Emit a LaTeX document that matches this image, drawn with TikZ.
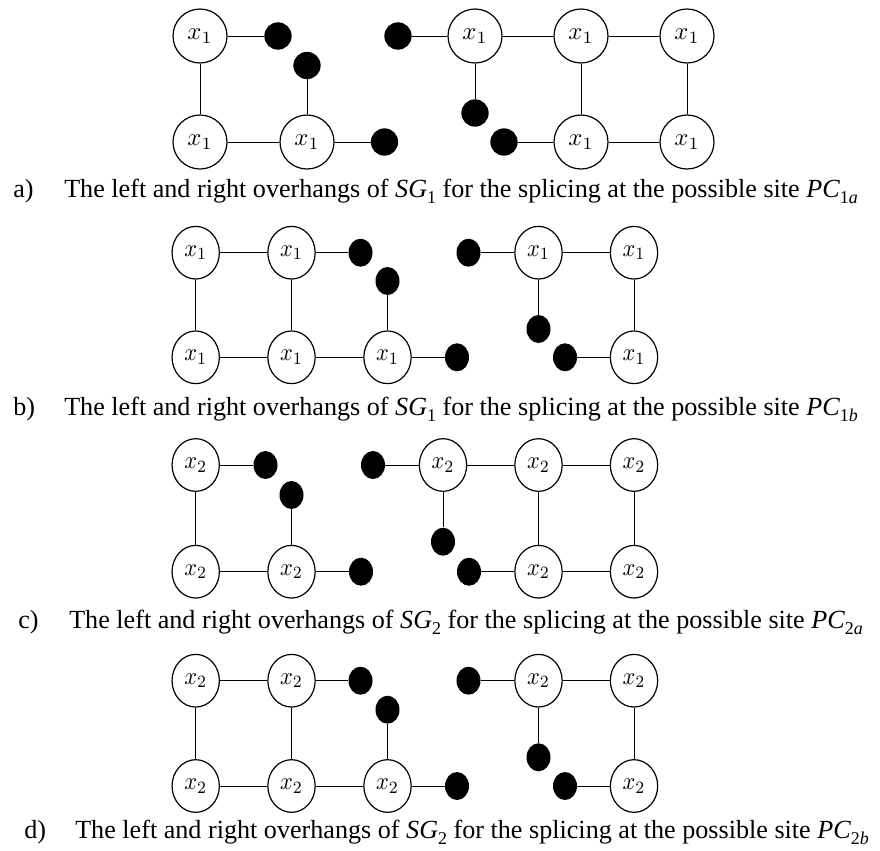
\documentclass[tikz,border=0pt]{standalone}
\usepackage{fontspec}
\setmainfont{Liberation Serif}
\usetikzlibrary{shapes.geometric}
\newcommand{\capsub}[1]{\raisebox{-0.25em}{\fontsize{13.5}{14}\selectfont #1}}
\newcommand{\lbla}[1]{\scalebox{1.85}{$x_{#1}$}}
\newcommand{\lblb}[1]{\scalebox{1.68}[1.85]{$x_{#1}$}}
\tikzset{
  vtxa/.style={circle, draw, line width=0.9pt, minimum size=40.5pt, inner sep=0pt},
  vtxb/.style={ellipse, draw, line width=0.9pt, minimum width=35.5pt, minimum height=39.5pt, inner sep=0pt},
  dota/.style={circle, fill, minimum size=20.5pt, inner sep=0pt},
  dotb/.style={ellipse, fill, minimum width=18pt, minimum height=21pt, inner sep=0pt},
  conn/.style={line width=0.6pt},
  captext/.style={font=\fontsize{19.6}{22}\selectfont, inner sep=0pt, anchor=base west}
}
\begin{document}
\begin{tikzpicture}[x=0.75pt, y=-0.75pt]
\useasboundingbox (0,0) rectangle (880,850);
% ---------- row a ----------
\node[vtxa] (a1) at (200,36) {\lbla{1}};
\node[vtxa] (a2) at (200,142) {\lbla{1}};
\node[vtxa] (a3) at (307,142) {\lbla{1}};
\node[dota] (ad1) at (278,36) {};
\node[dota] (ad2) at (307,65.5) {};
\node[dota] (ad3) at (384.5,142) {};
\node[vtxa] (a4) at (475,36) {\lbla{1}};
\node[vtxa] (a5) at (581,36) {\lbla{1}};
\node[vtxa] (a6) at (687,36) {\lbla{1}};
\node[vtxa] (a7) at (581,142) {\lbla{1}};
\node[vtxa] (a8) at (687,142) {\lbla{1}};
\node[dota] (ad4) at (398,36) {};
\node[dota] (ad5) at (475,113) {};
\node[dota] (ad6) at (504,142) {};
\draw[conn] (a1) -- (a2); \draw[conn] (a2) -- (a3);
\draw[conn] (a1) -- (ad1); \draw[conn] (a3) -- (ad2); \draw[conn] (a3) -- (ad3);
\draw[conn] (ad4) -- (a4); \draw[conn] (a4) -- (a5); \draw[conn] (a5) -- (a6);
\draw[conn] (a4) -- (ad5); \draw[conn] (a5) -- (a7); \draw[conn] (a6) -- (a8);
\draw[conn] (ad6) -- (a7); \draw[conn] (a7) -- (a8);
\node[captext] (la) at (13,197) {a)};
\node[captext] (ta) at (64,197) {The left and right overhangs of \textit{SG}\capsub{1} for the splicing at the possible site \textit{PC}\capsub{1\textit{a}}};
% ---------- row b ----------
\node[vtxb] (b1) at (195.7,252.7) {\lblb{1}};
\node[vtxb] (b2) at (291.5,252.7) {\lblb{1}};
\node[vtxb] (b3) at (195.7,357.3) {\lblb{1}};
\node[vtxb] (b4) at (291.5,357.3) {\lblb{1}};
\node[vtxb] (b5) at (387.5,357.3) {\lblb{1}};
\node[dotb] (bd1) at (360.5,252.7) {};
\node[dotb] (bd2) at (387.5,281) {};
\node[dotb] (bd3) at (457,357.3) {};
\node[vtxb] (b6) at (538.5,252.7) {\lblb{1}};
\node[vtxb] (b7) at (634,252.7) {\lblb{1}};
\node[vtxb] (b8) at (634,357.3) {\lblb{1}};
\node[dotb] (bd4) at (468.5,252.7) {};
\node[dotb] (bd5) at (538.5,329) {};
\node[dotb] (bd6) at (565,357.3) {};
\draw[conn] (b1) -- (b2); \draw[conn] (b1) -- (b3); \draw[conn] (b2) -- (b4);
\draw[conn] (b3) -- (b4); \draw[conn] (b4) -- (b5);
\draw[conn] (b2) -- (bd1); \draw[conn] (b5) -- (bd2); \draw[conn] (b5) -- (bd3);
\draw[conn] (bd4) -- (b6); \draw[conn] (b6) -- (b7); \draw[conn] (b7) -- (b8);
\draw[conn] (b6) -- (bd5); \draw[conn] (bd6) -- (b8);
\node[captext] (lb) at (13,415) {b)};
\node[captext] (tb) at (64,415) {The left and right overhangs of \textit{SG}\capsub{1} for the splicing at the possible site \textit{PC}\capsub{1\textit{b}}};
% ---------- row c ----------
\node[vtxb] (c1) at (195.7,465) {\lblb{2}};
\node[vtxb] (c2) at (195.7,571.7) {\lblb{2}};
\node[vtxb] (c3) at (291.5,571.7) {\lblb{2}};
\node[dotb] (cd1) at (265.5,465) {};
\node[dotb] (cd2) at (291.5,495) {};
\node[dotb] (cd3) at (361,571.7) {};
\node[vtxb] (c4) at (443,465) {\lblb{2}};
\node[vtxb] (c5) at (538.5,465) {\lblb{2}};
\node[vtxb] (c6) at (634,465) {\lblb{2}};
\node[vtxb] (c7) at (538.5,571.7) {\lblb{2}};
\node[vtxb] (c8) at (634,571.7) {\lblb{2}};
\node[dotb] (cd4) at (373,465) {};
\node[dotb] (cd5) at (443,541.7) {};
\node[dotb] (cd6) at (469,571.7) {};
\draw[conn] (c1) -- (c2); \draw[conn] (c2) -- (c3);
\draw[conn] (c1) -- (cd1); \draw[conn] (c3) -- (cd2); \draw[conn] (c3) -- (cd3);
\draw[conn] (cd4) -- (c4); \draw[conn] (c4) -- (c5); \draw[conn] (c5) -- (c6);
\draw[conn] (c4) -- (cd5); \draw[conn] (c5) -- (c7); \draw[conn] (c6) -- (c8);
\draw[conn] (cd6) -- (c7); \draw[conn] (c7) -- (c8);
\node[captext] (lc) at (18,628) {c)};
\node[captext] (tc) at (69,628) {The left and right overhangs of \textit{SG}\capsub{2} for the splicing at the possible site \textit{PC}\capsub{2\textit{a}}};
% ---------- row d ----------
\node[vtxb] (d1) at (195.7,680.7) {\lblb{2}};
\node[vtxb] (d2) at (291.5,680.7) {\lblb{2}};
\node[vtxb] (d3) at (195.7,786) {\lblb{2}};
\node[vtxb] (d4) at (291.5,786) {\lblb{2}};
\node[vtxb] (d5) at (387.5,786) {\lblb{2}};
\node[dotb] (dd1) at (360.5,680.7) {};
\node[dotb] (dd2) at (387.5,709.7) {};
\node[dotb] (dd3) at (457,786) {};
\node[vtxb] (d6) at (538.5,680.7) {\lblb{2}};
\node[vtxb] (d7) at (634,680.7) {\lblb{2}};
\node[vtxb] (d8) at (634,786) {\lblb{2}};
\node[dotb] (dd4) at (468.5,680.7) {};
\node[dotb] (dd5) at (538.5,757.3) {};
\node[dotb] (dd6) at (565,786) {};
\draw[conn] (d1) -- (d2); \draw[conn] (d1) -- (d3); \draw[conn] (d2) -- (d4);
\draw[conn] (d3) -- (d4); \draw[conn] (d4) -- (d5);
\draw[conn] (d2) -- (dd1); \draw[conn] (d5) -- (dd2); \draw[conn] (d5) -- (dd3);
\draw[conn] (dd4) -- (d6); \draw[conn] (d6) -- (d7); \draw[conn] (d7) -- (d8);
\draw[conn] (d6) -- (dd5); \draw[conn] (dd6) -- (d8);
\node[captext] (ld) at (24,838) {d)};
\node[captext] (td) at (75,838) {The left and right overhangs of \textit{SG}\capsub{2} for the splicing at the possible site \textit{PC}\capsub{2\textit{b}}};
\end{tikzpicture}
\end{document}
